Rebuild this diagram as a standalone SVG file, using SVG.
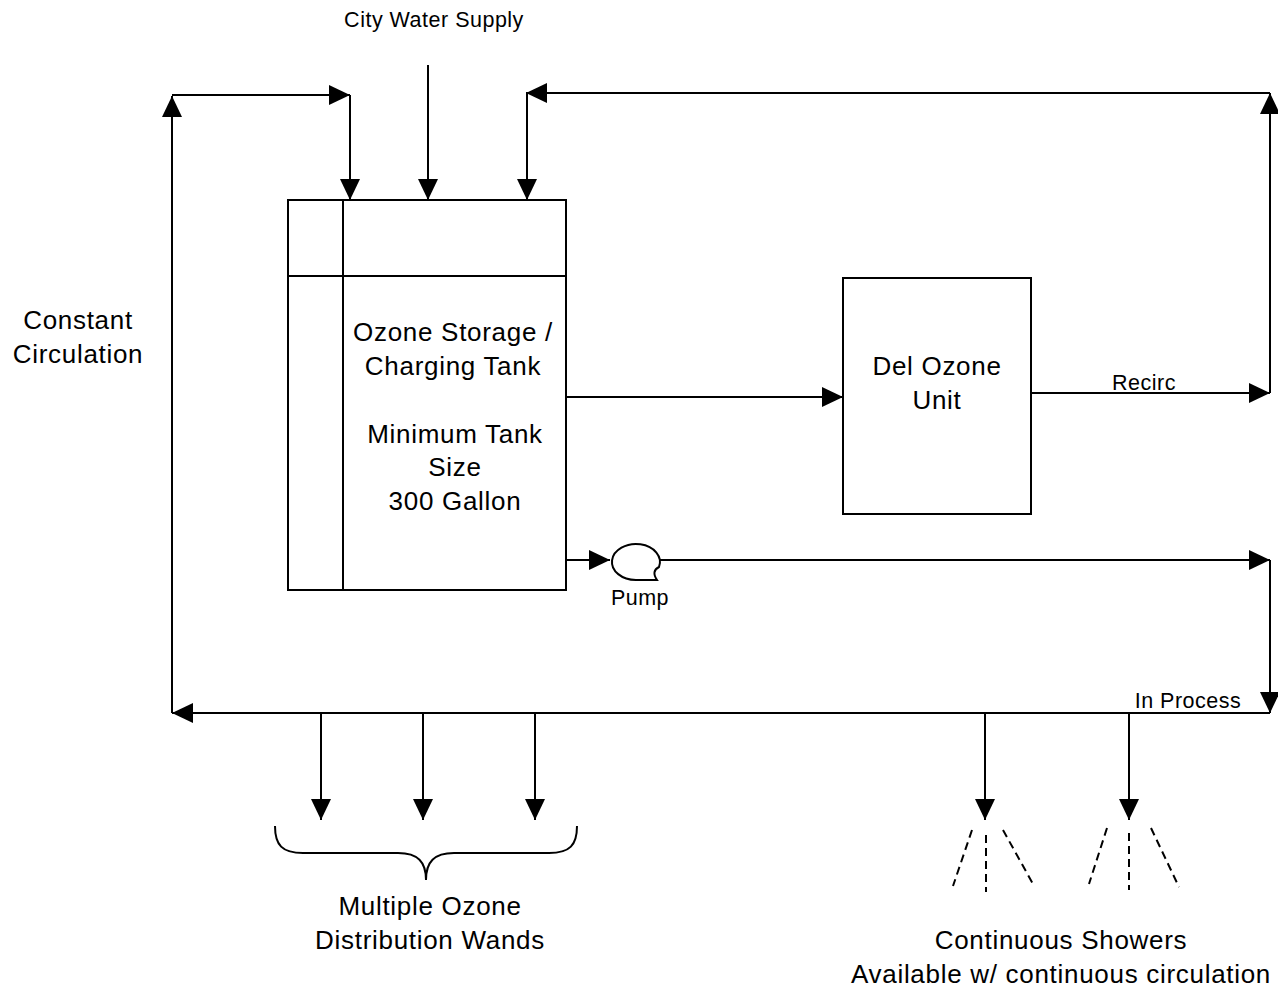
<svg xmlns="http://www.w3.org/2000/svg" width="1278" height="989" viewBox="0 0 1278 989">
<style>
  text { font-family: "Liberation Sans", Arial, sans-serif; fill: #000; text-anchor: middle; }
  .big { font-size: 26px; letter-spacing: 0.7px; }
  .small { font-size: 21.5px; letter-spacing: 0.5px; }
  .box { fill: #fff; stroke: #000; stroke-width: 2; }
  .ln { fill: none; stroke: #000; stroke-width: 2; }
  .arr { fill: none; stroke: #000; stroke-width: 2; marker-end: url(#ah); }
  .dash { fill: none; stroke: #000; stroke-width: 2; stroke-dasharray: 8 5; }
</style>
<defs>
  <marker id="ah" markerUnits="userSpaceOnUse" markerWidth="22" markerHeight="20" refX="21" refY="10" orient="auto" overflow="visible">
    <path d="M0,0 L21,10 L0,20 Z" fill="#000"/>
  </marker>
</defs>
<rect width="1278" height="989" fill="#fff"/>

<g id="connectors">
  <path class="arr" d="M428,65 V200"/>
  <path class="arr" d="M172,713 V96"/>
  <path class="arr" d="M172,95 H350"/>
  <path class="arr" d="M350,95 V200"/>
  <path class="arr" d="M1270,393 V93"/>
  <path class="arr" d="M1270,93 H526"/>
  <path class="arr" d="M527,93 V200"/>
  <path class="arr" d="M566,397 H843"/>
  <path class="arr" d="M1031,393 H1270"/>
  <path class="arr" d="M566,560 H610"/>
  <path class="arr" d="M660,560 H1270"/>
  <path class="arr" d="M1270,560 V713"/>
  <path class="arr" d="M1270,713 H172"/>
  <path class="arr" d="M321,713 V820"/>
  <path class="arr" d="M423,713 V820"/>
  <path class="arr" d="M535,713 V820"/>
  <path class="arr" d="M985,713 V820"/>
  <path class="arr" d="M1129,713 V820"/>
</g>

<g id="city-water">
  <text class="small" x="434" y="27">City Water Supply</text>
</g>

<g id="constant-circulation">
  <text class="big" x="78" y="329">Constant</text>
  <text class="big" x="78" y="363">Circulation</text>
</g>

<g id="tank">
  <rect class="box" x="288" y="200" width="278" height="390"/>
  <path class="ln" d="M343,200 V590 M288,276 H566"/>
  <text class="big" x="453" y="341">Ozone Storage /</text>
  <text class="big" x="453" y="375">Charging Tank</text>
  <text class="big" x="455" y="443">Minimum Tank</text>
  <text class="big" x="455" y="476">Size</text>
  <text class="big" x="455" y="510">300 Gallon</text>
</g>

<g id="del-ozone">
  <rect class="box" x="843" y="278" width="188" height="236"/>
  <text class="big" x="937" y="375">Del Ozone</text>
  <text class="big" x="937" y="409">Unit</text>
</g>

<g id="recirc-label">
  <text class="small" x="1144" y="390">Recirc</text>
</g>

<g id="pump">
  <path class="ln" d="M657,580 H636 A24,18 0 1 1 659,567 Q651,571 657,580 Z" fill="#fff"/>
  <text class="small" x="640" y="605">Pump</text>
</g>

<g id="in-process-label">
  <text class="small" x="1188" y="708">In Process</text>
</g>

<g id="wands">
  <path class="ln" d="M275,826 C275,845 282,853 303,853 H398 C418,853 426,862 426,880 C426,862 434,853 454,853 H549 C570,853 577,845 577,826"/>
  <text class="big" x="430" y="915">Multiple Ozone</text>
  <text class="big" x="430" y="949">Distribution Wands</text>
</g>

<g id="showers">
  <path class="dash" d="M972,830 L953,886 M986,835 V892 M1003,830 L1033,884"/>
  <path class="dash" d="M1107,828 L1089,884 M1129,833 V890 M1151,828 L1179,887"/>
  <text class="big" x="1061" y="949">Continuous Showers</text>
  <text class="big" x="1061" y="983">Available w/ continuous circulation</text>
</g>
</svg>
